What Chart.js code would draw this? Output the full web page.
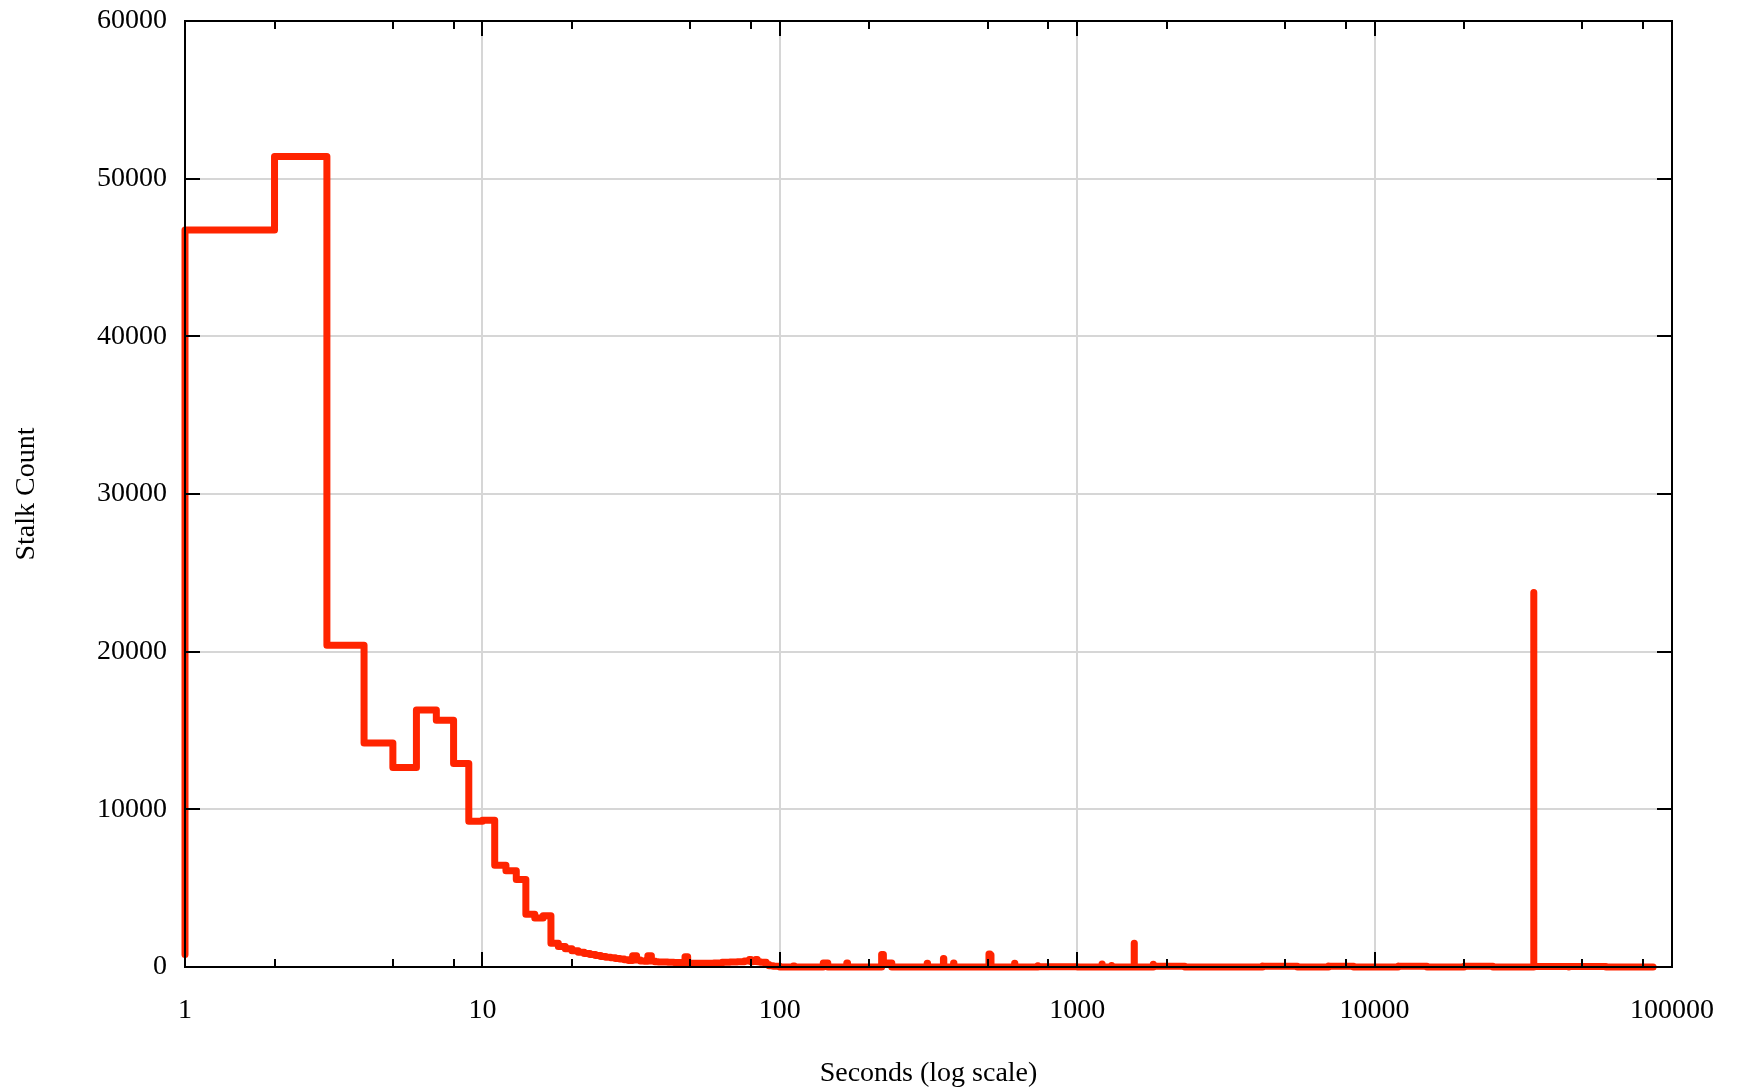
<!DOCTYPE html>
<html>
<head>
<meta charset="utf-8">
<title>Stalk Count</title>
<script src="https://cdn.jsdelivr.net/npm/chart.js@4.4.1/dist/chart.umd.min.js"></script>
<style>
  body { margin: 0; background: #fff; }
  #wrap { width: 1741px; height: 1090px; }
</style>
</head>
<body>
<div id="wrap"><canvas id="grafico" width="1741" height="1090"></canvas></div>
<script>
// seconds (x) and stalk count (y)
const secondi = [
  1, 2, 3, 4, 5, 6, 7, 8, 9, 10,
  11, 12, 13, 14, 15, 16, 17, 18, 19, 20,
  21, 22, 23, 24, 25, 26, 27, 28, 29, 30,
  31, 32, 33, 34, 35, 36, 37, 38, 39, 40,
  42, 44, 46, 48, 49, 50, 55, 60, 64, 68,
  72, 76, 79, 80, 81, 83, 84, 86, 88, 89,
  90, 92, 95, 100, 105, 111, 112, 140, 145, 146,
  168, 169, 170, 220, 223, 225, 238, 239, 313, 314,
  315, 355, 356, 357, 384, 385, 386, 505, 509, 513,
  514, 616, 617, 618, 737, 738, 739, 1000, 1212, 1213,
  1214, 1305, 1306, 1307, 1555, 1556, 1557, 1802, 1803, 1804,
  2300, 2301, 4199, 4200, 4201, 5500, 5501, 6999, 7000, 7001,
  8500, 8501, 11999, 12000, 12001, 15000, 15001, 19999, 20000, 20001,
  25000, 25001, 34299, 34300, 34301, 45000, 45001, 60000, 60001, 86400
];
const conteggi = [
  800, 46750, 51400, 20400, 14200, 12650, 16300, 15650, 12900, 9250,
  9300, 6450, 6100, 5550, 3350, 3100, 3250, 1500, 1300, 1150,
  1030, 940, 860, 790, 730, 670, 620, 580, 540, 500,
  460, 420, 720, 450, 380, 360, 720, 380, 340, 320,
  310, 300, 290, 280, 650, 260, 240, 230, 250, 300,
  320, 330, 380, 480, 330, 350, 470, 330, 300, 280,
  300, 160, 80, 40, 0, 0, 60, 0, 260, 0,
  0, 250, 0, 0, 790, 300, 250, 0, 0, 230,
  0, 0, 540, 0, 0, 250, 0, 0, 820, 760,
  0, 0, 240, 0, 0, 80, 0, 20, 0, 190,
  0, 0, 100, 0, 0, 1500, 0, 0, 170, 0,
  40, 0, 0, 60, 0, 40, 0, 0, 60, 0,
  50, 0, 0, 40, 0, 50, 0, 0, 40, 0,
  40, 0, 0, 23750, 0, 30, 0, 30, 0, 0
];
const tickX = [1, 10, 100, 1000, 10000, 100000];
const tickXMinori = [2, 5, 8];
const tickY = [0, 10000, 20000, 30000, 40000, 50000, 60000];

const punti = secondi.map((s, i) => ({x: s, y: conteggi[i]}));

Chart.defaults.font.family = '"Liberation Serif", "Times New Roman", serif';
Chart.defaults.font.size = 28;
Chart.defaults.color = '#000';

// cornice nera con tacche verso l'interno, come gnuplot
const cornice = {
  id: 'cornice',
  afterDatasetsDraw(chart) {
    const ctx = chart.ctx;
    const a = chart.chartArea;
    const sx = chart.scales.x;
    const sy = chart.scales.y;
    ctx.save();
    ctx.strokeStyle = '#000';
    ctx.lineWidth = 2;
    ctx.lineCap = 'butt';
    ctx.beginPath();
    tickY.forEach(v => {
      const y = Math.round(sy.getPixelForValue(v));
      ctx.moveTo(a.left, y); ctx.lineTo(a.left + 15, y);
      ctx.moveTo(a.right, y); ctx.lineTo(a.right - 15, y);
    });
    tickX.forEach(v => {
      const x = Math.round(sx.getPixelForValue(v));
      ctx.moveTo(x, a.bottom); ctx.lineTo(x, a.bottom - 15);
      ctx.moveTo(x, a.top); ctx.lineTo(x, a.top + 15);
    });
    tickX.slice(0, -1).forEach(d => {
      tickXMinori.forEach(m => {
        const x = Math.round(sx.getPixelForValue(d * m));
        ctx.moveTo(x, a.bottom); ctx.lineTo(x, a.bottom - 8);
        ctx.moveTo(x, a.top); ctx.lineTo(x, a.top + 8);
      });
    });
    ctx.stroke();
    ctx.strokeRect(a.left, a.top, a.right - a.left, a.bottom - a.top);
    ctx.restore();
  }
};

const ctx = document.getElementById('grafico').getContext('2d');
new Chart(ctx, {
  type: 'line',
  data: {
    datasets: [{
      data: punti,
      borderColor: '#ff2400',
      borderWidth: 7,
      borderCapStyle: 'round',
      borderJoinStyle: 'round',
      stepped: 'after',
      pointRadius: 0,
      tension: 0,
      fill: false,
      clip: false
    }]
  },
  options: {
    responsive: false,
    animation: false,
    devicePixelRatio: 1,
    layout: { padding: { left: 0, right: 69, top: 21, bottom: 0 } },
    plugins: {
      legend: { display: false },
      tooltip: { enabled: false }
    },
    scales: {
      x: {
        type: 'logarithmic',
        min: 1,
        max: 100000,
        afterBuildTicks: scale => { scale.ticks = tickX.map(v => ({value: v})); },
        afterFit: scale => {
          scale.height = 123;
          scale.paddingLeft = 0;
          scale.paddingRight = 0;
        },
        ticks: {
          autoSkip: false,
          maxRotation: 0,
          padding: 27,
          callback: v => String(v)
        },
        grid: { color: '#d6d6d6', lineWidth: 2, drawTicks: false },
        border: { display: false },
        title: {
          display: true,
          text: 'Seconds (log scale)',
          padding: { top: 0, bottom: 0 }
        }
      },
      y: {
        type: 'linear',
        min: 0,
        max: 60000,
        afterBuildTicks: scale => { scale.ticks = tickY.map(v => ({value: v})); },
        afterFit: scale => {
          scale.width = 185;
          scale.paddingTop = 0;
          scale.paddingBottom = 0;
        },
        ticks: {
          padding: 18,
          callback: v => String(v)
        },
        grid: { color: '#d6d6d6', lineWidth: 2, drawTicks: false },
        border: { display: false },
        title: {
          display: true,
          text: 'Stalk Count',
          padding: { top: 10, bottom: 0 }
        }
      }
    }
  },
  plugins: [cornice]
});
</script>
</body>
</html>
